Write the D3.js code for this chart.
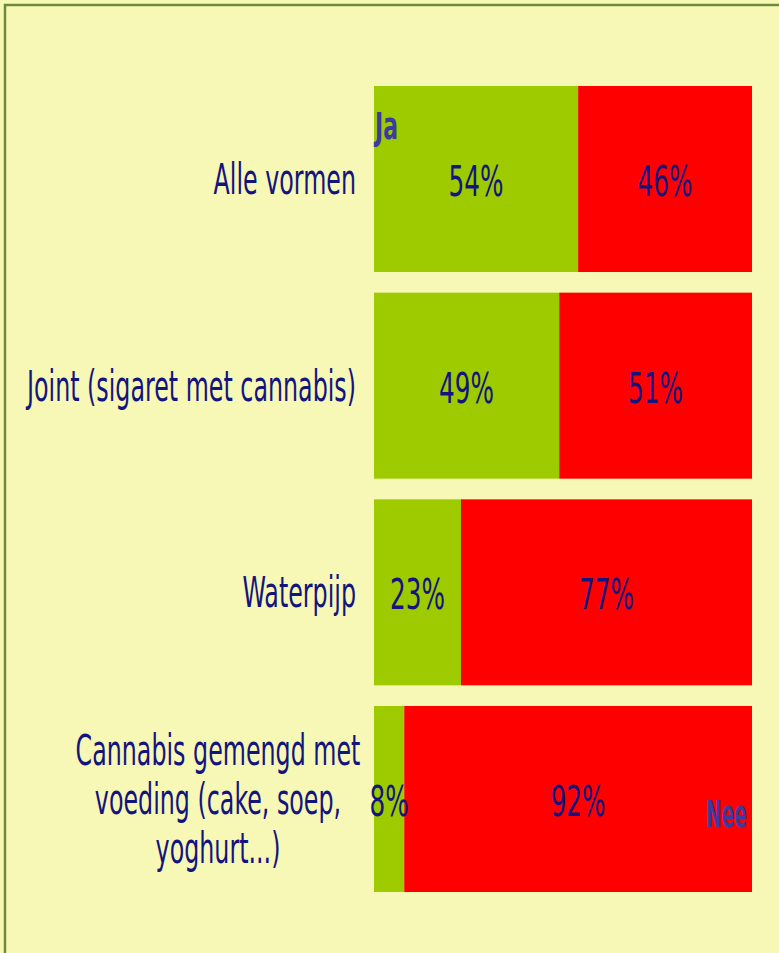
<!DOCTYPE html>
<html><head><meta charset="utf-8">
<script src="https://cdn.jsdelivr.net/npm/d3@7"></script>
<style>
html,body{margin:0;padding:0;background:#f7f8b5;}
svg{display:block;}
text{font-family:"Liberation Sans Narrow","Arial Narrow","DejaVu Sans Condensed",sans-serif;}
</style></head>
<body>
<svg id="chart" width="779" height="953"></svg>
<script>
const categories = [
  ["Alle vormen"],
  ["Joint (sigaret met cannabis)"],
  ["Waterpijp"],
  ["Cannabis gemengd met", "voeding (cake, soep,", "yoghurt...)"]
];
const jaValues = [54, 49, 23, 8];
const neeValues = [46, 51, 77, 92];
const seriesNames = ["Ja", "Nee"];

const svg = d3.select("#chart");
const W = 779, H = 953;
const textColor = "#14147f";
const legendColor = "#3b3ba0";
const colors = {Ja: "#9dcb00", Nee: "#ff0000"};

svg.append("rect").attr("x", 0).attr("y", 0).attr("width", W).attr("height", H).attr("fill", "#f7f8b5");
svg.append("rect").attr("x", 5).attr("y", 5).attr("width", W + 20).attr("height", H + 20)
  .attr("fill", "none").attr("stroke", "#6f8a38").attr("stroke-width", 2.5);

const keys = categories.map((c, i) => i);
const y = d3.scaleBand().domain(keys).range([86, 892]).paddingInner(0.1).paddingOuter(0);
const x = d3.scaleLinear().domain([0, 100]).range([374, 752]);

const rows = keys.map(i => ({i, ja: jaValues[i], nee: neeValues[i]}));
const stack = d3.stack().keys(["ja", "nee"])(rows);

const fontSize = 42;

stack.forEach((layer, li) => {
  const name = seriesNames[li];
  svg.append("g").selectAll("rect").data(layer).join("rect")
    .attr("x", d => x(d[0]))
    .attr("width", d => x(d[1]) - x(d[0]))
    .attr("y", d => y(d.data.i))
    .attr("height", y.bandwidth())
    .attr("fill", colors[name]);
});

// helper: text placed at (px,py) and horizontally condensed by sx
function place(sel, px, py, sx) {
  sel.attr("x", 0).attr("y", 0).attr("transform", `translate(${px},${py}) scale(${sx},1)`);
}

// value labels
const valueLabels = [];
stack.forEach(layer => {
  layer.forEach(d => {
    const t = svg.append("text")
      .attr("text-anchor", "middle")
      .attr("font-size", fontSize)
      .attr("fill", textColor)
      .text((d[1] - d[0]) + "%");
    valueLabels.push({t, px: x((d[0] + d[1]) / 2), py: y(d.data.i) + y.bandwidth() / 2 + 17});
  });
});

// category labels
const catLabels = [];
categories.forEach((lines, i) => {
  const cy = y(i) + y.bandwidth() / 2;
  if (lines.length === 1) {
    const t = svg.append("text").attr("text-anchor", "end")
      .attr("font-size", fontSize).attr("fill", textColor).text(lines[0]);
    catLabels.push({t, px: 356, py: cy + 15});
  } else {
    const lh = 49;
    lines.forEach((ln, k) => {
      const t = svg.append("text").attr("text-anchor", "middle")
        .attr("font-size", fontSize).attr("fill", textColor).text(ln);
      catLabels.push({t, px: 218, py: cy + 15 + (k - (lines.length - 1) / 2) * lh});
    });
  }
});

// condensing factors calibrated on typical label widths in the original
const catNat = catLabels.slice(0, 3).reduce((s, o) => s + o.t.node().getComputedTextLength(), 0);
const catSx = 585 / catNat;
catLabels.forEach(o => place(o.t, o.px, o.py, catSx));
const valNat = valueLabels[0].t.node().getComputedTextLength();
const valSx = 55 / valNat;
valueLabels.forEach(o => place(o.t, o.px, o.py, valSx));

// series name labels
const ja = svg.append("text").attr("font-size", 38).attr("font-weight", "bold")
  .attr("fill", legendColor).text(seriesNames[0]);
place(ja, x(0) + 1, 139, 23 / ja.node().getComputedTextLength());
const nee = svg.append("text").attr("text-anchor", "end").attr("font-size", 38).attr("font-weight", "bold")
  .attr("fill", legendColor).text(seriesNames[1]);
place(nee, x(100) - 5, 827, 41 / nee.node().getComputedTextLength());
</script>
</body></html>
